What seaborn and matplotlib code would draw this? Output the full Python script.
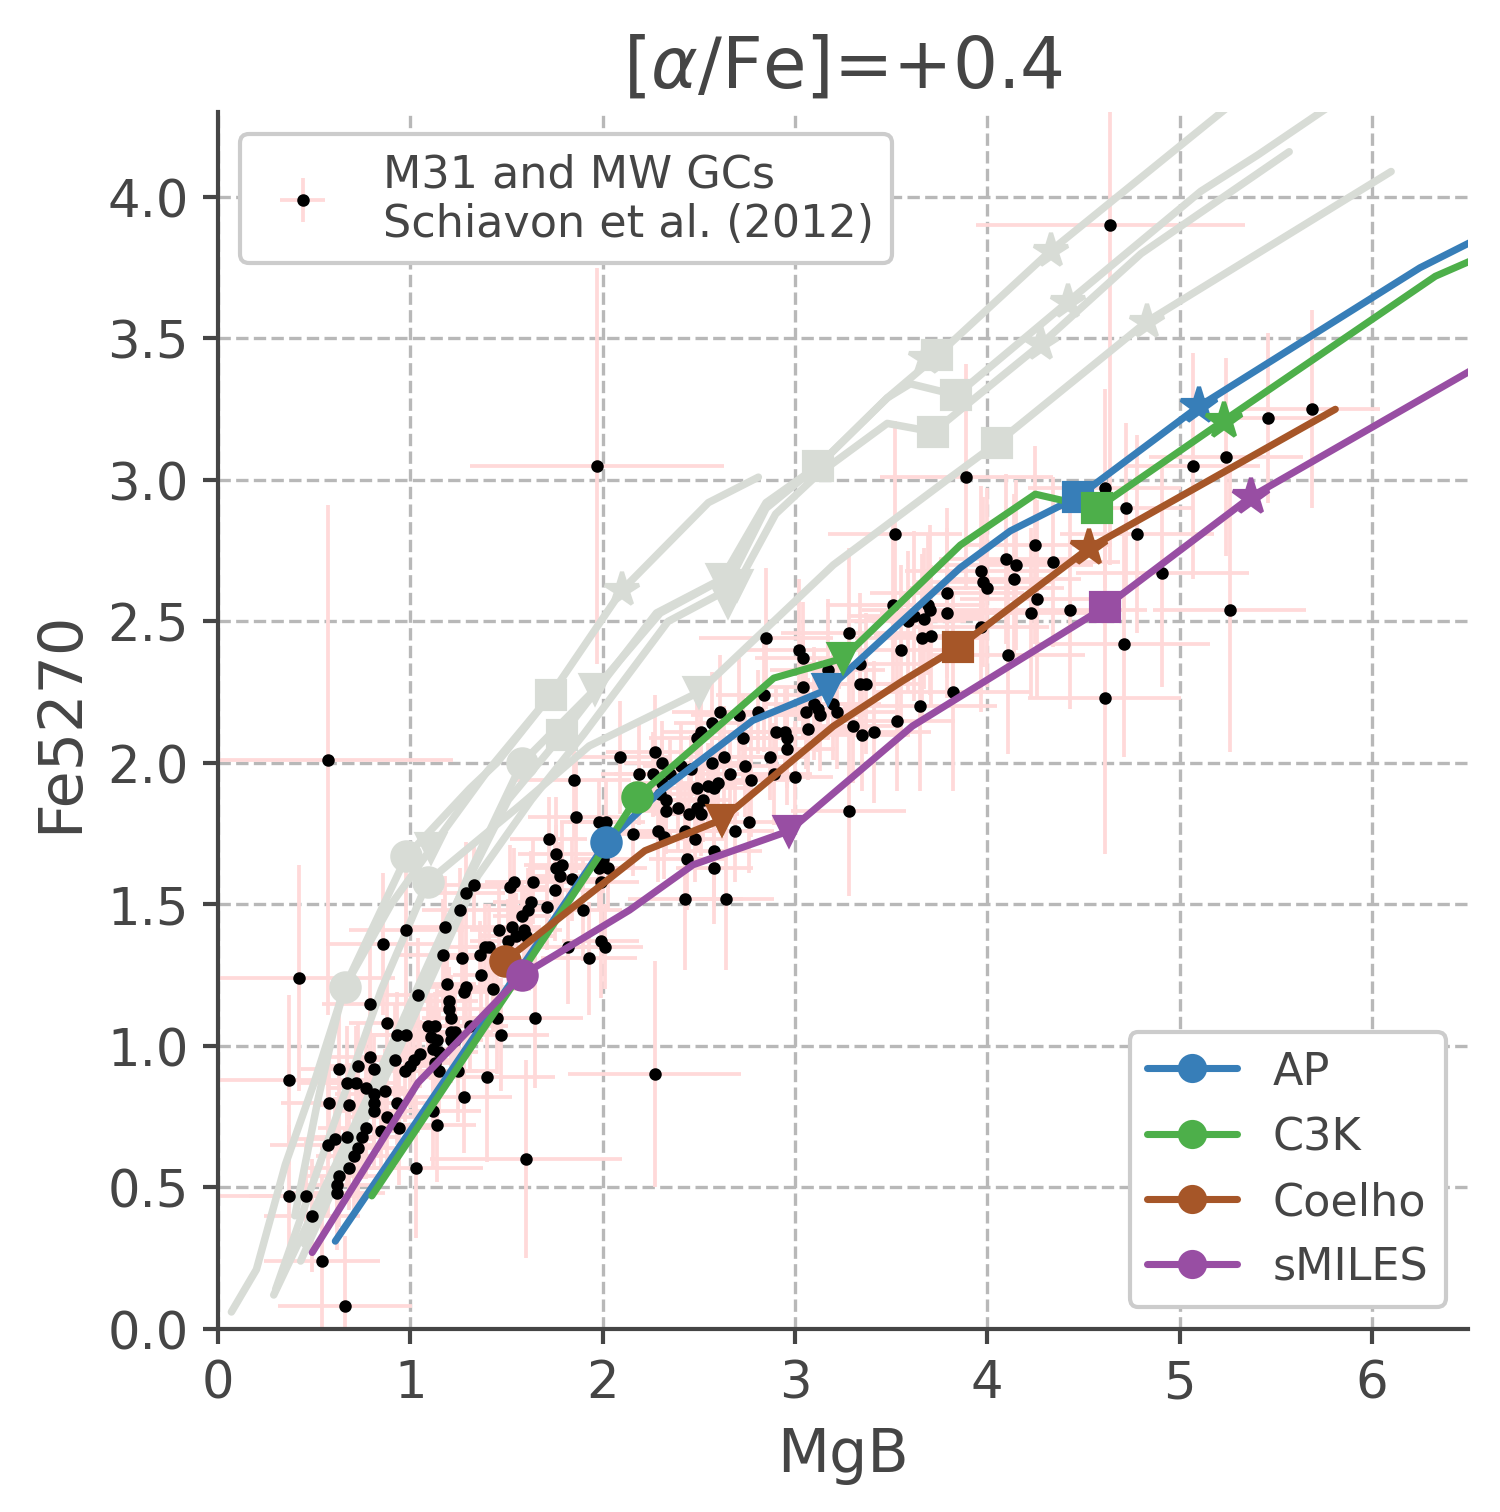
import matplotlib
matplotlib.use("Agg")
import matplotlib.pyplot as plt
from matplotlib.lines import Line2D
import seaborn as sns

# ---- globular cluster data (Schiavon et al. 2012) ----
gc_mgb = [0.42, 0.37, 0.58, 0.57, 0.61, 0.63, 0.67, 0.68, 0.67, 0.71, 0.68, 0.73, 0.72, 0.79, 0.79, 0.81,
          0.77, 0.81, 0.81, 0.81, 0.77, 0.75, 0.73, 0.86, 0.88, 0.87, 0.88, 0.85, 0.92, 0.93, 0.94, 0.93,
          0.98, 0.98, 0.97, 1.00, 1.02, 1.05, 1.04, 1.03, 1.09, 1.11, 1.13, 1.14, 1.12, 1.15, 1.13, 1.15,
          1.12, 1.14, 1.17, 1.18, 1.19, 1.20, 1.20, 1.21, 1.21, 1.23, 1.21, 1.23, 1.25, 1.28, 1.26, 1.29,
          1.33, 1.27, 1.28, 1.29, 1.31, 1.37, 1.36, 1.39, 1.41, 1.40, 1.43, 1.45, 1.47, 1.46, 1.51, 1.52,
          1.54, 1.53, 1.55, 1.58, 1.59, 1.60, 1.61, 1.63, 1.64, 1.65, 1.60, 1.71, 1.75, 1.76, 1.76, 1.79,
          1.78, 1.84, 1.82, 1.90, 1.93, 1.99, 1.98, 2.03, 2.00, 1.99, 2.01, 1.72, 0.62, 0.63, 0.46, 0.37,
          0.54, 0.66, 0.62, 0.49, 0.57, 2.27, 1.97, 1.85, 1.86, 2.09, 1.98, 2.02, 2.16, 2.19, 2.26, 2.27,
          2.31, 2.31, 2.30, 2.35, 2.33, 2.33, 2.39, 2.29, 2.32, 2.41, 2.46, 2.45, 2.43, 2.48, 2.44, 2.49,
          2.49, 2.52, 2.51, 2.49, 2.51, 2.57, 2.61, 2.55, 2.58, 2.60, 2.57, 2.63, 2.66, 2.58, 2.58, 2.43,
          2.64, 2.69, 2.71, 2.73, 2.74, 2.77, 2.76, 2.81, 2.84, 2.85, 2.87, 2.89, 2.90, 2.95, 2.96, 2.96,
          3.00, 3.02, 3.04, 3.04, 3.06, 3.07, 3.10, 3.12, 3.13, 3.17, 3.20, 3.22, 3.28, 3.30, 3.28, 3.34,
          3.34, 3.37, 3.35, 3.41, 3.51, 3.53, 3.55, 3.59, 3.62, 3.67, 3.66, 3.65, 3.69, 3.70, 3.71, 3.79,
          3.79, 3.82, 3.89, 4.61, 4.72, 4.78, 4.25, 4.10, 4.15, 4.34, 3.97, 3.98, 4.00, 4.14, 4.26, 4.23,
          4.43, 4.91, 5.07, 5.24, 5.46, 5.69, 5.26, 4.71, 4.11, 4.61, 3.97, 4.64, 3.52]
gc_fe = [1.24, 0.88, 0.80, 0.65, 0.67, 0.92, 0.87, 0.79, 0.68, 0.61, 0.57, 0.93, 0.87, 1.15, 0.96, 0.92,
         0.85, 0.83, 0.80, 0.77, 0.71, 0.68, 0.64, 1.36, 1.08, 0.84, 0.75, 0.70, 0.95, 0.80, 0.71, 1.04,
         1.41, 1.04, 0.91, 0.93, 0.95, 0.97, 1.18, 0.57, 1.07, 1.03, 1.07, 1.02, 0.99, 0.98, 0.94, 0.91,
         0.77, 0.72, 1.32, 1.42, 1.22, 1.16, 1.13, 1.10, 1.05, 1.05, 1.02, 1.02, 0.91, 0.82, 1.48, 1.54,
         1.57, 1.31, 1.19, 1.21, 1.07, 1.25, 1.32, 1.35, 1.35, 0.89, 1.20, 1.10, 1.04, 1.41, 1.37, 1.56,
         1.58, 1.42, 1.39, 1.46, 1.41, 1.39, 1.48, 1.51, 1.58, 1.10, 0.60, 1.49, 1.55, 1.68, 1.63, 1.64,
         1.60, 1.59, 1.35, 1.48, 1.31, 1.58, 1.63, 1.63, 1.66, 1.37, 1.35, 1.73, 0.48, 0.54, 0.47, 0.47,
         0.24, 0.08, 0.51, 0.40, 2.01, 0.90, 3.05, 1.94, 1.81, 2.02, 1.79, 1.79, 1.75, 1.96, 1.96, 2.04,
         2.00, 1.93, 1.89, 1.96, 1.87, 1.83, 1.84, 1.76, 1.74, 1.99, 1.98, 1.82, 1.76, 1.73, 1.66, 1.91,
         1.84, 1.87, 1.82, 2.09, 2.11, 2.14, 2.18, 1.92, 1.91, 1.93, 2.00, 2.02, 1.96, 1.69, 1.63, 1.52,
         1.52, 1.76, 2.17, 2.09, 1.99, 1.94, 1.79, 2.18, 2.24, 2.44, 2.02, 1.96, 2.11, 2.11, 2.09, 2.05,
         1.95, 2.40, 2.37, 2.27, 2.18, 2.12, 2.21, 2.19, 2.17, 2.33, 2.21, 2.18, 2.46, 2.13, 1.83, 2.35,
         2.28, 2.28, 2.10, 2.11, 2.56, 2.15, 2.40, 2.50, 2.52, 2.51, 2.44, 2.20, 2.56, 2.54, 2.45, 2.60,
         2.53, 2.25, 3.01, 2.97, 2.90, 2.81, 2.77, 2.72, 2.70, 2.71, 2.68, 2.64, 2.62, 2.65, 2.58, 2.53,
         2.54, 2.67, 3.05, 3.08, 3.22, 3.25, 2.54, 2.42, 2.38, 2.23, 2.48, 3.90, 2.81]
gc_mgb_err = [0.50, 0.45, 0.25, 0.30, 0.20, 0.20, 0.25, 0.15, 0.20, 0.20, 0.25, 0.20, 0.15, 0.25, 0.20, 0.15,
              0.20, 0.20, 0.15, 0.20, 0.25, 0.20, 0.20, 0.30, 0.20, 0.15, 0.20, 0.20, 0.20, 0.15, 0.20, 0.15,
              0.30, 0.20, 0.20, 0.15, 0.20, 0.15, 0.20, 0.35, 0.15, 0.20, 0.15, 0.20, 0.15, 0.20, 0.15, 0.20,
              0.25, 0.20, 0.25, 0.20, 0.15, 0.15, 0.20, 0.15, 0.15, 0.20, 0.15, 0.15, 0.20, 0.25, 0.20, 0.20,
              0.25, 0.15, 0.15, 0.20, 0.20, 0.15, 0.15, 0.20, 0.15, 0.35, 0.20, 0.20, 0.25, 0.15, 0.20, 0.20,
              0.15, 0.15, 0.20, 0.15, 0.20, 0.15, 0.20, 0.20, 0.15, 0.25, 0.50, 0.20, 0.20, 0.20, 0.15, 0.20,
              0.15, 0.20, 0.25, 0.20, 0.25, 0.20, 0.15, 0.20, 0.15, 0.20, 0.20, 0.20, 0.25, 0.20, 0.30, 0.40,
              0.30, 0.35, 0.20, 0.25, 0.65, 0.45, 0.66, 0.30, 0.25, 0.25, 0.20, 0.20, 0.20, 0.20, 0.20, 0.25,
              0.20, 0.15, 0.20, 0.15, 0.20, 0.15, 0.20, 0.20, 0.15, 0.20, 0.15, 0.20, 0.20, 0.15, 0.20, 0.15,
              0.20, 0.15, 0.20, 0.25, 0.20, 0.20, 0.25, 0.15, 0.20, 0.15, 0.20, 0.20, 0.15, 0.25, 0.20, 0.30,
              0.25, 0.20, 0.25, 0.20, 0.20, 0.25, 0.20, 0.20, 0.25, 0.35, 0.20, 0.20, 0.25, 0.20, 0.20, 0.25,
              0.20, 0.30, 0.25, 0.20, 0.25, 0.20, 0.25, 0.20, 0.25, 0.30, 0.25, 0.30, 0.35, 0.25, 0.30, 0.30,
              0.25, 0.30, 0.25, 0.30, 0.35, 0.30, 0.35, 0.30, 0.35, 0.30, 0.35, 0.40, 0.30, 0.35, 0.30, 0.40,
              0.35, 0.40, 0.45, 0.40, 0.35, 0.40, 0.40, 0.35, 0.40, 0.35, 0.40, 0.35, 0.40, 0.35, 0.40, 0.35,
              0.40, 0.45, 0.35, 0.40, 0.30, 0.35, 0.40, 0.45, 0.40, 0.40, 0.35, 0.70, 0.35]
gc_fe_err = [0.40, 0.30, 0.20, 0.25, 0.15, 0.20, 0.20, 0.15, 0.18, 0.20, 0.15, 0.15, 0.20, 0.20, 0.15, 0.12,
             0.20, 0.15, 0.15, 0.20, 0.18, 0.15, 0.22, 0.25, 0.15, 0.15, 0.18, 0.15, 0.20, 0.15, 0.20, 0.15,
             0.30, 0.15, 0.18, 0.15, 0.20, 0.12, 0.20, 0.25, 0.15, 0.15, 0.12, 0.18, 0.15, 0.15, 0.20, 0.15,
             0.20, 0.20, 0.20, 0.18, 0.15, 0.12, 0.15, 0.15, 0.12, 0.15, 0.15, 0.12, 0.18, 0.20, 0.15, 0.18,
             0.15, 0.15, 0.12, 0.15, 0.15, 0.15, 0.12, 0.15, 0.15, 0.30, 0.15, 0.20, 0.20, 0.15, 0.15, 0.15,
             0.12, 0.15, 0.15, 0.12, 0.15, 0.15, 0.15, 0.18, 0.15, 0.25, 0.35, 0.15, 0.18, 0.20, 0.15, 0.15,
             0.12, 0.15, 0.20, 0.18, 0.20, 0.15, 0.15, 0.15, 0.12, 0.20, 0.15, 0.15, 0.20, 0.18, 0.20, 0.25,
             0.30, 0.25, 0.15, 0.20, 0.90, 0.40, 0.70, 0.20, 0.20, 0.20, 0.15, 0.15, 0.15, 0.18, 0.15, 0.20,
             0.15, 0.15, 0.15, 0.12, 0.15, 0.15, 0.15, 0.18, 0.15, 0.15, 0.12, 0.15, 0.15, 0.15, 0.18, 0.12,
             0.15, 0.15, 0.15, 0.20, 0.15, 0.18, 0.20, 0.15, 0.15, 0.12, 0.15, 0.18, 0.15, 0.20, 0.20, 0.25,
             0.25, 0.18, 0.20, 0.15, 0.18, 0.20, 0.18, 0.15, 0.20, 0.25, 0.15, 0.18, 0.15, 0.15, 0.18, 0.20,
             0.20, 0.25, 0.20, 0.18, 0.20, 0.18, 0.20, 0.15, 0.20, 0.25, 0.20, 0.20, 0.30, 0.20, 0.30, 0.25,
             0.20, 0.25, 0.20, 0.25, 0.30, 0.25, 0.30, 0.25, 0.30, 0.25, 0.30, 0.30, 0.25, 0.30, 0.25, 0.30,
             0.30, 0.35, 0.40, 0.35, 0.30, 0.35, 0.35, 0.30, 0.30, 0.30, 0.30, 0.30, 0.35, 0.30, 0.35, 0.30,
             0.35, 0.40, 0.40, 0.35, 0.30, 0.35, 0.50, 0.40, 0.35, 0.55, 0.30, 1.20, 0.40]

# ---- model tracks at [alpha/Fe]=+0.4 ----
ap_mgb = [0.61, 2.02, 2.30, 2.78, 3.17, 3.86, 4.12, 4.47, 5.10, 6.25, 6.60]
ap_fe = [0.31, 1.72, 1.90, 2.15, 2.26, 2.69, 2.82, 2.94, 3.26, 3.75, 3.87]
ap_marks = [1, 4, 7, 8]

c3k_mgb = [0.80, 2.00, 2.18, 2.89, 3.25, 3.86, 4.25, 4.57, 5.23, 6.33, 6.60]
c3k_fe = [0.47, 1.69, 1.88, 2.30, 2.37, 2.77, 2.95, 2.90, 3.21, 3.72, 3.80]
c3k_marks = [2, 4, 7, 8]

coelho_mgb = [1.49, 2.22, 2.62, 3.20, 3.56, 3.85, 4.53, 5.81]
coelho_fe = [1.30, 1.69, 1.80, 2.13, 2.29, 2.41, 2.76, 3.25]
coelho_marks = [0, 2, 5, 6]

smiles_mgb = [0.49, 1.04, 1.58, 2.14, 2.47, 2.97, 3.61, 4.61, 5.37, 6.60]
smiles_fe = [0.27, 0.87, 1.25, 1.48, 1.64, 1.76, 2.13, 2.55, 2.94, 3.42]
smiles_marks = [2, 5, 7, 8]

models = {
    "AP": (ap_mgb, ap_fe, ap_marks, "#377eb8"),
    "C3K": (c3k_mgb, c3k_fe, c3k_marks, "#4daf4a"),
    "Coelho": (coelho_mgb, coelho_fe, coelho_marks, "#a65628"),
    "sMILES": (smiles_mgb, smiles_fe, smiles_marks, "#984ea3"),
}
MARKERS = ["o", "v", "s", "*"]

# ---- grey comparison tracks ----
grey_tracks = [
    ([0.07, 0.20, 0.35, 0.50, 0.66, 0.98, 1.31, 1.45, 1.73, 2.10, 2.55, 2.81],
     [0.06, 0.21, 0.58, 0.87, 1.21, 1.67, 1.91, 2.00, 2.24, 2.61, 2.92, 3.01]),
    ([0.40, 0.52, 0.62, 0.66, 0.90, 1.11, 1.40, 1.73],
     [0.40, 0.81, 1.11, 1.21, 1.50, 1.70, 1.97, 2.24]),
    ([0.43, 0.90, 1.30, 1.58, 1.96, 2.30, 2.68, 2.85, 3.12, 3.48, 3.74, 4.33, 5.40],
     [0.24, 0.95, 1.60, 2.00, 2.26, 2.53, 2.67, 2.90, 3.05, 3.29, 3.44, 3.81, 4.40]),
    ([0.29, 0.80, 1.20, 1.51, 1.79, 2.28, 2.62, 2.85, 3.12, 3.48, 3.60, 3.84, 4.42, 5.11, 5.41, 5.80],
     [0.12, 0.85, 1.45, 1.87, 2.10, 2.53, 2.65, 2.92, 3.05, 3.29, 3.34, 3.30, 3.63, 4.02, 4.15, 4.33]),
    ([0.45, 0.95, 1.35, 1.63, 1.90, 2.34, 2.70, 2.90, 3.12, 3.48, 3.72, 4.28, 4.80, 5.57],
     [0.30, 1.00, 1.60, 1.87, 2.10, 2.50, 2.63, 2.88, 3.02, 3.20, 3.17, 3.48, 3.80, 4.16]),
    ([0.30, 0.60, 0.85, 1.09, 1.57, 1.93, 2.50, 3.20, 3.81, 4.05, 4.83, 6.10],
     [0.14, 0.72, 1.20, 1.58, 1.85, 2.06, 2.25, 2.70, 3.01, 3.13, 3.56, 4.09]),
]
grey_circle_mgb = [0.66, 0.98, 1.09, 1.58]
grey_circle_fe = [1.21, 1.67, 1.58, 2.00]
grey_tri_mgb = [1.11, 1.96, 2.50, 2.62, 2.65, 2.70]
grey_tri_fe = [1.70, 2.26, 2.25, 2.65, 2.57, 2.63]
grey_sq_mgb = [1.73, 1.79, 3.12, 3.74, 3.84, 3.72, 4.05]
grey_sq_fe = [2.24, 2.10, 3.05, 3.44, 3.30, 3.17, 3.13]
grey_star_mgb = [2.10, 3.68, 4.33, 4.42, 4.28, 4.83]
grey_star_fe = [2.61, 3.43, 3.81, 3.63, 3.48, 3.56]

TEXT = "#454545"
GREY = "#d8dcd6"
PINK = "#ffd9d9"

sns.set_theme(style="ticks")
plt.rcParams.update({
    "font.family": ["DejaVu Sans"],
    "text.color": TEXT,
    "axes.labelcolor": TEXT,
    "axes.edgecolor": TEXT,
    "xtick.color": TEXT,
    "ytick.color": TEXT,
})

fig = plt.figure(figsize=(5.0, 5.043), dpi=300)
ax = fig.add_axes([0.1453, 0.1210, 0.8334, 0.8043])

# observations
eb = ax.errorbar(gc_mgb, gc_fe, xerr=gc_mgb_err, yerr=gc_fe_err, fmt="o", ms=2.0,
                 color="black", ecolor=PINK, elinewidth=0.9, capsize=0, zorder=1)
eb.lines[0].set_zorder(3)

# grey tracks
for gx, gy in grey_tracks:
    sns.lineplot(x=gx, y=gy, sort=False, estimator=None, color=GREY, lw=1.8, ax=ax, zorder=2)
for mx, my, m, ms in [(grey_circle_mgb, grey_circle_fe, "o", 6.8),
                      (grey_tri_mgb, grey_tri_fe, "v", 6.8),
                      (grey_sq_mgb, grey_sq_fe, "s", 6.8),
                      (grey_star_mgb, grey_star_fe, "*", 8.5)]:
    ax.plot(mx, my, ls="none", marker=m, ms=ms, color=GREY, mec=GREY, zorder=2)

# coloured tracks
handles = []
for name, (mx, my, marks, col) in models.items():
    sns.lineplot(x=mx, y=my, sort=False, estimator=None, color=col, lw=1.7, ax=ax, zorder=4)
    for idx, m in zip(marks, MARKERS):
        ax.plot([mx[idx]], [my[idx]], ls="none", marker=m, ms=9.0 if m == "*" else 6.8,
                color=col, mec=col, zorder=5)
    handles.append(Line2D([], [], color=col, lw=1.7, marker="o", ms=6))

ax.set_xlim(0, 6.5)
ax.set_ylim(0, 4.3)
ax.set_xticks(range(0, 7))
ax.set_yticks([0.0, 0.5, 1.0, 1.5, 2.0, 2.5, 3.0, 3.5, 4.0])
ax.set_yticklabels(["0.0", "0.5", "1.0", "1.5", "2.0", "2.5", "3.0", "3.5", "4.0"])
ax.tick_params(labelsize=12.3, width=1.0, length=3.5)
ax.grid(True, ls="--", lw=0.8, color="#b8b8b8")
ax.set_axisbelow(True)
for s in ["left", "bottom"]:
    ax.spines[s].set_linewidth(1.0)
sns.despine(ax=ax)

ax.set_xlabel("MgB", fontsize=14.5)
ax.set_ylabel("Fe5270", fontsize=14.5)
ax.set_title(r"[$\alpha$/Fe]=+0.4", fontsize=17, color=TEXT)

leg1 = ax.legend([eb], ["M31 and MW GCs\nSchiavon et al. (2012)"], loc="upper left",
                 fontsize=10.7, frameon=True, framealpha=1, edgecolor="#cccccc", fancybox=True)
leg1.set_zorder(10)
ax.add_artist(leg1)
leg2 = ax.legend(handles, list(models.keys()), loc="lower right", fontsize=10.7,
                 frameon=True, framealpha=1, edgecolor="#cccccc", fancybox=True)
leg2.set_zorder(10)

fig.savefig("out.png", dpi=300)
